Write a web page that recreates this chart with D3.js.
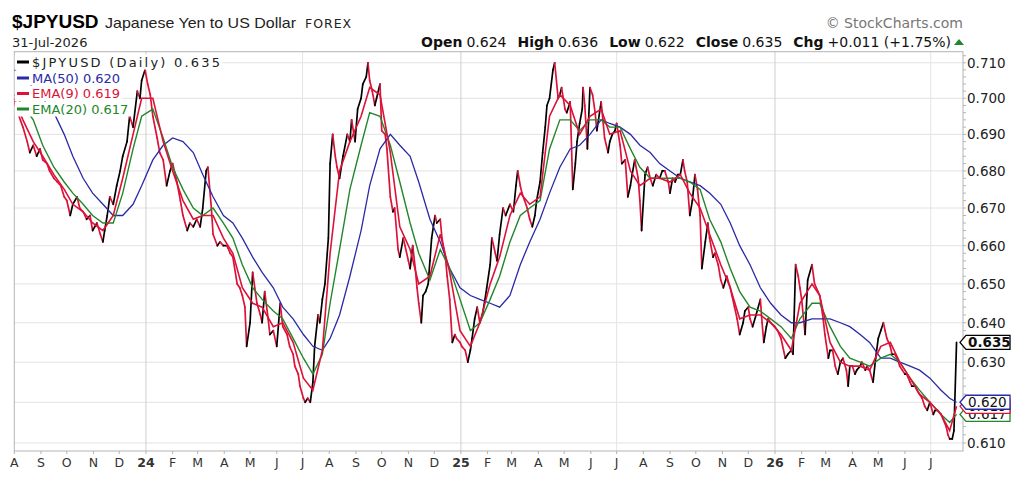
<!DOCTYPE html>
<html lang="en">
<head>
	<meta charset="utf-8">
	<script src="https://d3js.org/d3.v7.min.js"></script>
	<style type="text/css">
		body { margin: 0; background: #fff; }
		svg text { font-family: "DejaVu Sans", Verdana, sans-serif; }
	</style>
</head>
<body>
	<script type="text/javascript">

	// daily close (about two points a week)
	var priceDates = ["2023-08-01","2023-08-05","2023-08-11","2023-08-16","2023-08-19","2023-08-23","2023-08-27","2023-08-31","2023-09-03","2023-09-08",
		"2023-09-11","2023-09-16","2023-09-20","2023-09-24","2023-09-28","2023-10-01","2023-10-05","2023-10-08","2023-10-13","2023-10-16",
		"2023-10-20","2023-10-24","2023-10-28","2023-10-31","2023-11-05","2023-11-09","2023-11-12","2023-11-14","2023-11-17","2023-11-20",
		"2023-11-24","2023-11-28","2023-12-02","2023-12-05","2023-12-10","2023-12-13","2023-12-17","2023-12-22","2023-12-25","2023-12-27",
		"2023-12-31","2024-01-03","2024-01-06","2024-01-09","2024-01-14","2024-01-17","2024-01-21","2024-01-25","2024-01-29","2024-02-01",
		"2024-02-06","2024-02-10","2024-02-13","2024-02-18","2024-02-21","2024-02-25","2024-02-29","2024-03-04","2024-03-07","2024-03-11",
		"2024-03-13","2024-03-17","2024-03-19","2024-03-24","2024-03-27","2024-03-31","2024-04-04","2024-04-08","2024-04-11","2024-04-16",
		"2024-04-19","2024-04-22","2024-04-25","2024-04-27","2024-05-01","2024-05-04","2024-05-09","2024-05-13","2024-05-15","2024-05-18",
		"2024-05-22","2024-05-24","2024-05-28","2024-06-01","2024-06-05","2024-06-08","2024-06-13","2024-06-16","2024-06-20","2024-06-22",
		"2024-06-26","2024-06-28","2024-07-02","2024-07-04","2024-07-07","2024-07-10","2024-07-13","2024-07-15","2024-07-19","2024-07-21",
		"2024-07-24","2024-07-27","2024-07-31","2024-08-02","2024-08-05","2024-08-08","2024-08-10","2024-08-13","2024-08-17","2024-08-22",
		"2024-08-25","2024-08-27","2024-08-31","2024-09-03","2024-09-07","2024-09-09","2024-09-13","2024-09-15","2024-09-17","2024-09-20",
		"2024-09-23","2024-09-25","2024-09-29","2024-10-01","2024-10-05","2024-10-07","2024-10-11","2024-10-14","2024-10-16","2024-10-20",
		"2024-10-22","2024-10-26","2024-10-28","2024-11-01","2024-11-03","2024-11-06","2024-11-09","2024-11-11","2024-11-13","2024-11-16",
		"2024-11-18","2024-11-21","2024-11-24","2024-11-26","2024-11-28","2024-12-02","2024-12-04","2024-12-08","2024-12-10","2024-12-14",
		"2024-12-16","2024-12-19","2024-12-22","2024-12-25","2024-12-27","2024-12-31","2025-01-02","2025-01-06","2025-01-09","2025-01-12",
		"2025-01-14","2025-01-17","2025-01-20","2025-01-23","2025-01-26","2025-01-29","2025-01-31","2025-02-04","2025-02-06","2025-02-10",
		"2025-02-12","2025-02-15","2025-02-19","2025-02-22","2025-02-27","2025-03-03","2025-03-06","2025-03-08","2025-03-11","2025-03-13",
		"2025-03-16","2025-03-19","2025-03-22","2025-03-25","2025-03-28","2025-03-30","2025-04-03","2025-04-06","2025-04-09","2025-04-11",
		"2025-04-14","2025-04-18","2025-04-20","2025-04-24","2025-04-26","2025-04-28","2025-05-02","2025-05-04","2025-05-08","2025-05-11",
		"2025-05-14","2025-05-16","2025-05-19","2025-05-22","2025-05-23","2025-05-25","2025-05-28","2025-05-31","2025-06-03","2025-06-06",
		"2025-06-08","2025-06-13","2025-06-15","2025-06-17","2025-06-21","2025-06-23","2025-06-26","2025-06-29","2025-07-01","2025-07-05",
		"2025-07-07","2025-07-11","2025-07-14","2025-07-17","2025-07-19","2025-07-22","2025-07-26","2025-07-28","2025-07-30","2025-08-03",
		"2025-08-06","2025-08-09","2025-08-12","2025-08-16","2025-08-20","2025-08-23","2025-08-26","2025-08-30","2025-09-01","2025-09-04",
		"2025-09-07","2025-09-10","2025-09-13","2025-09-16","2025-09-18","2025-09-21","2025-09-24","2025-09-27","2025-09-30","2025-10-03",
		"2025-10-06","2025-10-08","2025-10-12","2025-10-15","2025-10-17","2025-10-21","2025-10-23","2025-10-27","2025-10-30","2025-11-02",
		"2025-11-06","2025-11-10","2025-11-12","2025-11-15","2025-11-18","2025-11-21","2025-11-25","2025-11-27","2025-12-01","2025-12-03",
		"2025-12-06","2025-12-10","2025-12-15","2025-12-17","2025-12-19","2025-12-22","2025-12-24","2025-12-27","2026-01-01","2026-01-04",
		"2026-01-08","2026-01-13","2026-01-16","2026-01-20","2026-01-22","2026-01-25","2026-01-28","2026-01-30","2026-02-01","2026-02-05",
		"2026-02-08","2026-02-13","2026-02-16","2026-02-20","2026-02-22","2026-02-26","2026-02-28","2026-03-04","2026-03-06","2026-03-09",
		"2026-03-12","2026-03-15","2026-03-18","2026-03-21","2026-03-25","2026-03-27","2026-03-29","2026-04-01","2026-04-04","2026-04-06",
		"2026-04-10","2026-04-12","2026-04-16","2026-04-18","2026-04-21","2026-04-25","2026-04-28","2026-05-01","2026-05-04","2026-05-07",
		"2026-05-09","2026-05-11","2026-05-15","2026-05-17","2026-05-20","2026-05-23","2026-05-26","2026-05-29","2026-06-01","2026-06-03",
		"2026-06-07","2026-06-09","2026-06-13","2026-06-15","2026-06-18","2026-06-21","2026-06-24","2026-06-27","2026-06-30","2026-07-04",
		"2026-07-06","2026-07-09","2026-07-13","2026-07-15","2026-07-19","2026-07-21","2026-07-23","2026-07-26","2026-07-28","2026-07-31"];

	var priceValues = [0.699,0.696,0.692,0.688,0.685,0.687,0.684,0.686,0.683,0.682,
		0.680,0.678,0.677,0.676,0.673,0.672,0.668,0.671,0.673,0.670,
		0.669,0.667,0.668,0.664,0.666,0.663,0.661,0.664,0.668,0.673,
		0.671,0.676,0.680,0.684,0.688,0.695,0.692,0.702,0.700,0.705,
		0.708,0.704,0.701,0.695,0.689,0.685,0.683,0.676,0.680,0.682,
		0.677,0.672,0.668,0.664,0.666,0.665,0.667,0.665,0.670,0.680,
		0.681,0.670,0.663,0.660,0.661,0.660,0.660,0.658,0.657,0.650,
		0.649,0.647,0.644,0.634,0.640,0.653,0.645,0.642,0.640,0.648,
		0.641,0.637,0.638,0.634,0.645,0.639,0.637,0.634,0.632,0.629,
		0.627,0.624,0.621,0.620,0.621,0.620,0.625,0.634,0.642,0.640,
		0.646,0.650,0.662,0.682,0.690,0.684,0.681,0.678,0.684,0.690,
		0.688,0.694,0.688,0.697,0.700,0.704,0.706,0.710,0.705,0.702,
		0.698,0.700,0.704,0.691,0.690,0.686,0.673,0.669,0.670,0.659,
		0.657,0.662,0.660,0.656,0.654,0.660,0.654,0.649,0.645,0.640,
		0.647,0.648,0.650,0.656,0.662,0.668,0.666,0.667,0.662,0.657,
		0.652,0.646,0.635,0.637,0.636,0.635,0.634,0.633,0.630,0.633,
		0.636,0.641,0.644,0.640,0.642,0.646,0.649,0.655,0.662,0.658,
		0.656,0.663,0.670,0.668,0.671,0.669,0.676,0.680,0.676,0.674,
		0.672,0.670,0.667,0.665,0.668,0.672,0.677,0.685,0.692,0.698,
		0.700,0.708,0.710,0.700,0.701,0.703,0.697,0.696,0.699,0.675,
		0.682,0.688,0.693,0.697,0.703,0.698,0.686,0.703,0.701,0.696,
		0.691,0.699,0.694,0.689,0.685,0.688,0.690,0.691,0.693,0.687,
		0.682,0.683,0.673,0.676,0.679,0.683,0.678,0.672,0.664,0.679,
		0.681,0.678,0.676,0.679,0.678,0.680,0.680,0.677,0.674,0.678,
		0.677,0.679,0.679,0.683,0.680,0.677,0.668,0.672,0.679,0.675,
		0.668,0.654,0.661,0.666,0.662,0.657,0.658,0.655,0.651,0.649,
		0.652,0.649,0.647,0.644,0.641,0.637,0.640,0.643,0.644,0.641,
		0.639,0.642,0.646,0.640,0.635,0.639,0.641,0.640,0.639,0.638,
		0.636,0.631,0.632,0.633,0.632,0.655,0.652,0.649,0.646,0.637,
		0.651,0.655,0.650,0.648,0.647,0.641,0.637,0.631,0.633,0.633,
		0.629,0.627,0.630,0.631,0.628,0.624,0.629,0.629,0.627,0.628,
		0.629,0.630,0.628,0.629,0.628,0.625,0.631,0.636,0.638,0.640,
		0.638,0.636,0.634,0.632,0.632,0.631,0.629,0.628,0.627,0.627,
		0.625,0.624,0.624,0.623,0.622,0.621,0.619,0.618,0.620,0.617,
		0.618,0.618,0.617,0.616,0.614,0.612,0.611,0.611,0.613,0.635];

	// overlays, read at roughly ten-day steps
	var overlayDates = ["2023-08-01","2023-08-11","2023-08-23","2023-09-03","2023-09-16","2023-09-28","2023-10-08","2023-10-20","2023-10-31","2023-11-12",
		"2023-11-24","2023-12-05","2023-12-17","2023-12-27","2024-01-09","2024-01-21","2024-02-01","2024-02-13","2024-02-25","2024-03-07",
		"2024-03-19","2024-03-31","2024-04-11","2024-04-22","2024-05-04","2024-05-15","2024-05-28","2024-06-08","2024-06-20","2024-07-02",
		"2024-07-13","2024-07-24","2024-08-02","2024-08-13","2024-08-25","2024-09-07","2024-09-17","2024-09-29","2024-10-11","2024-10-22",
		"2024-11-03","2024-11-13","2024-11-26","2024-12-08","2024-12-19","2024-12-31","2025-01-12","2025-01-23","2025-02-04","2025-02-15",
		"2025-02-27","2025-03-11","2025-03-22","2025-04-03","2025-04-14","2025-04-26","2025-05-08","2025-05-19","2025-05-31","2025-06-13",
		"2025-06-23","2025-07-05","2025-07-17","2025-07-28","2025-08-09","2025-08-20","2025-09-01","2025-09-13","2025-09-24","2025-10-06",
		"2025-10-17","2025-10-30","2025-11-10","2025-11-21","2025-12-03","2025-12-15","2025-12-27","2026-01-08","2026-01-20","2026-01-30",
		"2026-02-13","2026-02-22","2026-03-06","2026-03-18","2026-03-29","2026-04-10","2026-04-21","2026-05-04","2026-05-15","2026-05-26",
		"2026-06-07","2026-06-18","2026-06-30","2026-07-13","2026-07-23","2026-07-31"];

	var ma50 = [0.708,0.706,0.703,0.700,0.696,0.690,0.684,0.678,0.674,0.671,
		0.668,0.668,0.671,0.676,0.683,0.687,0.689,0.688,0.685,0.679,
		0.673,0.668,0.666,0.662,0.657,0.653,0.649,0.644,0.641,0.637,
		0.634,0.633,0.636,0.642,0.652,0.664,0.676,0.686,0.690,0.687,
		0.684,0.677,0.667,0.661,0.654,0.649,0.647,0.646,0.645,0.644,
		0.647,0.655,0.661,0.667,0.674,0.681,0.686,0.687,0.690,0.694,
		0.693,0.692,0.690,0.687,0.685,0.682,0.680,0.678,0.677,0.676,
		0.674,0.671,0.666,0.660,0.655,0.649,0.645,0.642,0.640,0.640,
		0.641,0.641,0.641,0.640,0.639,0.637,0.635,0.631,0.631,0.630,
		0.629,0.628,0.626,0.623,0.621,0.620];

	var ema9 = [0.700,0.694,0.688,0.684,0.679,0.675,0.671,0.669,0.666,0.664,
		0.668,0.678,0.690,0.700,0.700,0.688,0.680,0.672,0.667,0.668,
		0.668,0.662,0.658,0.649,0.645,0.644,0.639,0.640,0.635,0.626,
		0.623,0.633,0.658,0.680,0.688,0.695,0.703,0.701,0.685,0.665,
		0.659,0.650,0.652,0.663,0.653,0.638,0.634,0.640,0.650,0.657,
		0.668,0.674,0.671,0.673,0.695,0.701,0.698,0.690,0.695,0.697,
		0.690,0.691,0.680,0.676,0.678,0.678,0.677,0.679,0.674,0.670,
		0.663,0.655,0.649,0.641,0.642,0.642,0.640,0.637,0.633,0.645,
		0.650,0.647,0.635,0.630,0.629,0.629,0.628,0.634,0.635,0.630,
		0.626,0.622,0.620,0.617,0.613,0.619];

	var ema20 = [0.701,0.698,0.694,0.687,0.681,0.677,0.674,0.671,0.668,0.666,
		0.666,0.674,0.686,0.695,0.697,0.689,0.681,0.675,0.670,0.668,
		0.670,0.666,0.662,0.655,0.649,0.646,0.643,0.641,0.636,0.631,
		0.627,0.632,0.645,0.659,0.675,0.687,0.696,0.695,0.687,0.677,
		0.666,0.658,0.651,0.659,0.654,0.646,0.638,0.640,0.646,0.652,
		0.661,0.668,0.670,0.672,0.686,0.694,0.694,0.691,0.694,0.694,
		0.692,0.692,0.686,0.681,0.678,0.678,0.678,0.678,0.677,0.675,
		0.667,0.661,0.654,0.648,0.644,0.643,0.641,0.639,0.636,0.641,
		0.645,0.645,0.639,0.634,0.631,0.630,0.629,0.631,0.632,0.630,
		0.626,0.623,0.620,0.617,0.615,0.617];

	var yTicks = [0.610,0.620,0.630,0.640,0.650,0.660,0.670,0.680,0.690,0.700,0.710];
	var monthLabels = ["A","S","O","N","D","24","F","M","A","M","J","J",
		"A","S","O","N","D","25","F","M","A","M","J","J",
		"A","S","O","N","D","26","F","M","A","M","J","J"];
	var gridDates = ["2024-01-01","2024-07-01","2025-01-01","2025-07-01","2026-01-01","2026-07-01"];
	var quoteLabels = ["Open","High","Low","Close","Chg"];
	var quoteValues = ["0.624","0.636","0.622","0.635","+0.011 (+1.75%)"];

	var width = 1024;
	var height = 484;
	// plot box (window.top is reserved, so no bare "top")
	var plotL = 14.3, plotR = 963, plotT = 51.7, plotB = 451;

	var red = "#dc1238", blue = "#2a2aa6", green = "#23862a";

	var parse = d3.utcParse("%Y-%m-%d");
	var fmt = d3.format(".3f");

	var x = d3.scaleUtc()
		.domain([parse("2023-08-01"), new Date(Date.UTC(2026, 7, 7, 12))])
		.range([plotL, plotR]);

	// StockCharts default: log price scale
	var y = d3.scaleLog()
		.domain([0.60805, 0.71315])
		.range([plotB, plotT]);

	var svg = d3.select("body")
		.append("svg")
		.attr("width", width)
		.attr("height", height);

	svg.append("clipPath").attr("id", "plot")
		.append("rect")
		.attr("x", plotL).attr("y", plotT)
		.attr("width", plotR - plotL).attr("height", plotB - plotT);

	// grid
	svg.selectAll(".hgrid")
		.data(yTicks)
		.enter().append("line")
		.attr("x1", plotL).attr("x2", plotR)
		.attr("y1", function(d) { return y(d); })
		.attr("y2", function(d) { return y(d); })
		.style("stroke", "#e2e2e2");

	svg.selectAll(".vgrid")
		.data(gridDates)
		.enter().append("line")
		.attr("x1", function(d) { return x(parse(d)); })
		.attr("x2", function(d) { return x(parse(d)); })
		.attr("y1", plotT).attr("y2", plotB)
		.style("stroke", function(d) { return d.slice(5) == "01-01" ? "#cfcfcf" : "#e4e4e4"; });

	svg.append("rect")
		.attr("x", plotL).attr("y", plotT)
		.attr("width", plotR - plotL).attr("height", plotB - plotT)
		.style("fill", "none")
		.style("stroke", "#b4b4b4");

	// x axis: one letter per month, year at january
	var months = d3.utcMonth.range(parse("2023-08-01"), parse("2026-07-02"));
	svg.selectAll(".mtick")
		.data(months)
		.enter().append("line")
		.attr("x1", function(d) { return x(d); })
		.attr("x2", function(d) { return x(d); })
		.attr("y1", plotB).attr("y2", plotB + 3)
		.style("stroke", "#b4b4b4");

	svg.selectAll(".mlabel")
		.data(months)
		.enter().append("text")
		.attr("x", function(d) { return x(d); })
		.attr("y", 467)
		.attr("text-anchor", "middle")
		.style("font-size", "12.5px")
		.style("font-weight", function(d, i) { return monthLabels[i].length > 1 ? "bold" : "normal"; })
		.style("fill", "#333")
		.text(function(d, i) { return monthLabels[i]; });

	// y axis on the right
	var minor = d3.range(0.610, 0.7125, 0.002);
	svg.selectAll(".ytick")
		.data(minor)
		.enter().append("line")
		.attr("x1", plotR).attr("x2", plotR + 3)
		.attr("y1", function(d) { return y(d); })
		.attr("y2", function(d) { return y(d); })
		.style("stroke", "#b4b4b4");

	svg.selectAll(".ylabel")
		.data(yTicks)
		.enter().append("text")
		.attr("x", 967)
		.attr("y", function(d) { return y(d) + 5; })
		.style("font-size", "13.5px")
		.style("fill", "#222")
		.text(fmt);

	// series
	var price = priceDates.map(function(d, i) { return {date: parse(d), v: priceValues[i]}; });
	function overlay(vals) {
		return overlayDates.map(function(d, i) { return {date: parse(d), v: vals[i]}; });
	}

	var line = d3.line()
		.x(function(d) { return x(d.date); })
		.y(function(d) { return y(d.v); });

	var g = svg.append("g").attr("clip-path", "url(#plot)");

	// price line: black on up days, red on down days
	g.selectAll(".seg")
		.data(price.slice(1))
		.enter().append("line")
		.attr("x1", function(d, i) { return x(price[i].date); })
		.attr("y1", function(d, i) { return y(price[i].v); })
		.attr("x2", function(d) { return x(d.date); })
		.attr("y2", function(d) { return y(d.v); })
		.style("stroke", function(d, i) { return d.v >= price[i].v ? "#000" : red; })
		.style("stroke-width", 1.7)
		.style("stroke-linecap", "round");

	g.append("path").datum(overlay(ma50))
		.attr("d", line)
		.style("fill", "none").style("stroke", blue).style("stroke-width", 1.3);

	g.append("path").datum(overlay(ema20))
		.attr("d", line)
		.style("fill", "none").style("stroke", green).style("stroke-width", 1.4);

	g.append("path").datum(overlay(ema9))
		.attr("d", line)
		.style("fill", "none").style("stroke", red).style("stroke-width", 1.6);

	// legend with white row backgrounds
	var last = priceValues.length - 1, lastO = overlayDates.length - 1;
	var legendItems = [
		{text: "$JPYUSD (Daily) " + fmt(priceValues[last]), color: "#000", fill: "#222"},
		{text: "MA(50) " + fmt(ma50[lastO]), color: blue, fill: blue},
		{text: "EMA(9) " + fmt(ema9[lastO]), color: red, fill: red},
		{text: "EMA(20) " + fmt(ema20[lastO]), color: green, fill: green}
	];
	var legendY = [62, 78, 93.5, 109];

	legendItems.forEach(function(item, i) {
		var row = svg.append("g");
		var bg = row.append("rect").style("fill", "#fff");
		row.append("line")
			.attr("x1", 17).attr("x2", 29)
			.attr("y1", legendY[i]).attr("y2", legendY[i])
			.style("stroke", item.color).style("stroke-width", 3);
		var t = row.append("text")
			.attr("x", 32).attr("y", legendY[i] + 4.5)
			.style("font-size", "13px")
			.style("fill", item.fill)
			.text(item.text);
		if (i == 0) t.attr("textLength", 188).attr("lengthAdjust", "spacing");
		var w = i == 0 ? 188 : t.node().getComputedTextLength();
		bg.attr("x", plotL + 0.5).attr("y", legendY[i] - 7.5)
			.attr("width", 32 + w - plotL + 2).attr("height", 15);
	});

	// value tags on the right axis (they overlap, as in StockCharts)
	var tags = [
		{v: ema20[lastO], color: green, bold: false},
		{v: ema9[lastO], color: red, bold: false},
		{v: ma50[lastO], color: blue, bold: false},
		{v: priceValues[last], color: "#000", bold: true}
	];
	tags.forEach(function(t) {
		var yy = y(t.v);
		svg.append("path")
			.attr("d", "M960," + yy + "L966," + (yy - 7) + "L1010," + (yy - 7) + "L1010," + (yy + 7) + "L966," + (yy + 7) + "Z")
			.style("fill", "#fff")
			.style("stroke", t.color)
			.style("stroke-width", 1.3);
		svg.append("text")
			.attr("x", 968).attr("y", yy + 5)
			.style("font-size", "13.5px")
			.style("font-weight", t.bold ? "bold" : "normal")
			.style("fill", "#111")
			.text(fmt(t.v));
	});

	// header
	svg.append("text")
		.attr("x", 12).attr("y", 28)
		.style("font-family", "'Liberation Sans', Arial, sans-serif")
		.style("font-weight", "bold").style("font-size", "19px")
		.text("$JPYUSD");
	svg.append("text")
		.attr("x", 105).attr("y", 28)
		.attr("textLength", 191).attr("lengthAdjust", "spacingAndGlyphs")
		.style("font-family", "'Liberation Sans', Arial, sans-serif")
		.style("font-size", "15px").style("fill", "#222")
		.text("Japanese Yen to US Dollar");
	svg.append("text")
		.attr("x", 305).attr("y", 28)
		.style("font-size", "12.5px").style("letter-spacing", "1px").style("fill", "#222")
		.text("FOREX");
	svg.append("text")
		.attr("x", 12).attr("y", 47)
		.style("font-size", "13px").style("fill", "#222")
		.text("31-Jul-2026");
	svg.append("text")
		.attr("x", 963).attr("y", 28)
		.attr("text-anchor", "end")
		.style("font-size", "14px").style("fill", "#777")
		.text("\u00a9 StockCharts.com");

	var quote = svg.append("text")
		.attr("x", 951).attr("y", 47)
		.attr("text-anchor", "end")
		.style("font-size", "14px").style("fill", "#111");
	quoteLabels.forEach(function(l, i) {
		quote.append("tspan").attr("dx", i ? 11 : 0).style("font-weight", "bold").text(l);
		quote.append("tspan").attr("dx", 4).text(quoteValues[i]);
	});
	svg.append("path")
		.attr("d", "M954,45L959,39L964,45Z")
		.style("fill", green);

	</script>
</body>
</html>
